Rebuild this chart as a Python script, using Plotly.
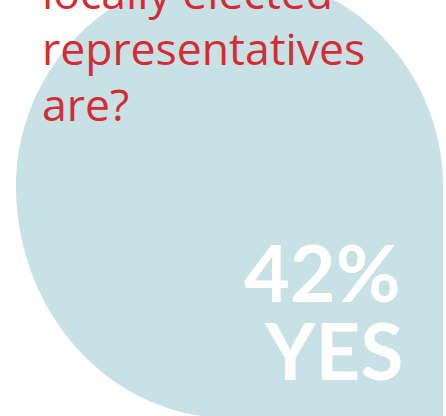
import numpy as np
import plotly.graph_objects as go

# ---- data ----
question_lines = ["locally elected", "representatives", "are?"]
pct_yes = 42
answer_label = "YES"

# ---- style ----
W, H = 446, 416
BLUE = "#c8e1e5"
RED = "#d52b34"

# bubble geometry (pixel space)
cx, cy, R, ry = 229.5, 186.0, 213.5, 232.0
t_top = np.linspace(np.pi, 2 * np.pi, 120)  # top half (y down axis)
xs_top = cx + R * np.cos(t_top)
ys_top = cy + R * np.sin(t_top)
t_bl = np.linspace(np.pi, np.pi / 2, 80)
xs_bl = cx + R * np.cos(t_bl)
ys_bl = cy + ry * np.sin(t_bl)

pts = []
for x, y in zip(xs_top, ys_top):
    pts.append((x, y))
pts.append((cx + R, cy + ry))
for x, y in zip(xs_bl[::-1], ys_bl[::-1]):
    pts.append((x, y))
path = "M " + " L ".join(f"{x:.2f},{y:.2f}" for x, y in pts) + " Z"

fig = go.Figure()
fig.add_shape(type="path", path=path, fillcolor=BLUE, line=dict(width=0), layer="below",
              xref="x", yref="y")

base0, step = 10, 56
for i, line in enumerate(question_lines):
    fig.add_annotation(x=40, y=base0 + i * step, text=line, showarrow=False,
                       xanchor="left", yanchor="bottom", yshift=-14,
                       font=dict(family="Open Sans", size=44.5, color=RED))

fig.add_annotation(x=402, y=302, text=f"{pct_yes}%", showarrow=False,
                   xanchor="right", yanchor="bottom", yshift=-19,
                   font=dict(family="Lato", size=79, color="white", weight="bold"))
fig.add_annotation(x=405, y=382, text=answer_label, showarrow=False,
                   xanchor="right", yanchor="bottom", yshift=-17,
                   font=dict(family="Lato", size=78, color="white", weight="bold"))

fig.update_layout(width=W, height=H, margin=dict(l=0, r=0, t=0, b=0),
                  paper_bgcolor="white", plot_bgcolor="white", showlegend=False,
                  xaxis=dict(range=[0, W], visible=False, fixedrange=True),
                  yaxis=dict(range=[H, 0], visible=False, fixedrange=True))
fig.write_html("out.html", config={"displayModeBar": False},
               post_script="document.body.style.margin='0';document.body.style.overflow='hidden';")
